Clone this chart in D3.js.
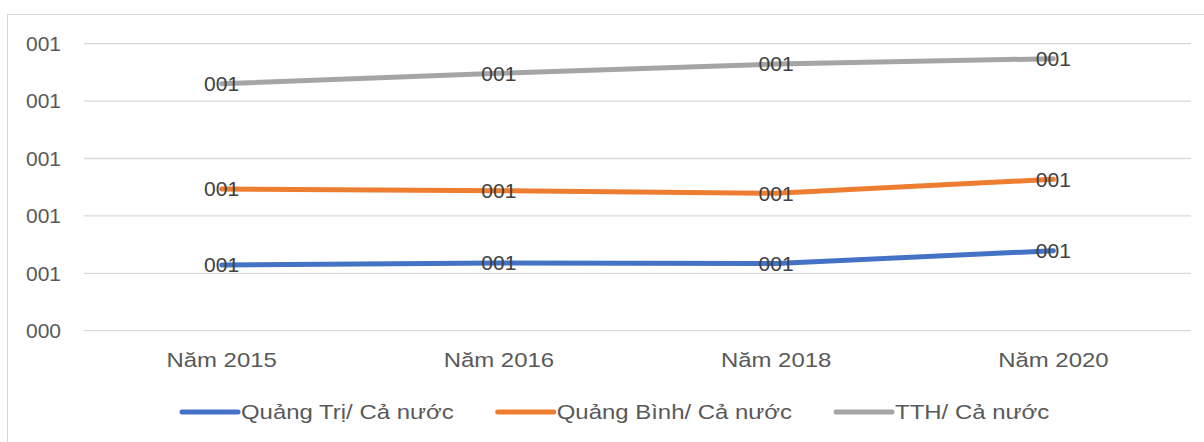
<!DOCTYPE html>
<html>
<head>
<meta charset="utf-8">
<script src="https://cdn.jsdelivr.net/npm/d3@7"></script>
<style>
  body { margin: 0; background: #fff; }
  text { font-family: "Liberation Sans", Arial, sans-serif; }
</style>
</head>
<body>
<svg id="chart" width="1204" height="442"></svg>
<script>
const categories = ['Năm 2015', 'Năm 2016', 'Năm 2018', 'Năm 2020'];
const seriesNames = ['Quảng Trị/ Cả nước', 'Quảng Bình/ Cả nước', 'TTH/ Cả nước'];
const quangTri = [1.145, 1.18, 1.17, 1.394];
const quangBinh = [2.469, 2.44, 2.394, 2.638];
const tth = [4.303, 4.484, 4.646, 4.739];
const yTicks = [0, 1, 2, 3, 4, 5];
const yTickLabels = ['000', '001', '001', '001', '001', '001'];
const pointLabels = ['001', '001', '001', '001'];
const colors = ['#4472C4', '#ED7D31', '#A5A5A5'];

const series = [quangTri, quangBinh, tth];
const wideText = 1.14; // the source renders words a bit wider

const svg = d3.select('#chart');

function stretch(sel) {
  sel.each(function() {
    const w = this.getComputedTextLength();
    d3.select(this)
      .attr('textLength', w * wideText)
      .attr('lengthAdjust', 'spacingAndGlyphs');
  });
}

// chart frame
svg.append('rect')
  .attr('x', 7.5).attr('y', 14.5)
  .attr('width', 1210).attr('height', 440)
  .attr('fill', 'none')
  .attr('stroke', '#D9D9D9');

const x = d3.scaleBand().domain(categories).range([83, 1192]);
const y = d3.scaleLinear().domain([0, 5]).range([330.7, 43.7]);

// gridlines
svg.append('g')
  .selectAll('line')
  .data(yTicks)
  .enter()
  .append('line')
  .attr('x1', 84).attr('x2', 1191)
  .attr('y1', function(d) { return y(d); })
  .attr('y2', function(d) { return y(d); })
  .attr('stroke', '#D9D9D9')
  .attr('stroke-width', 1.3);

// y axis labels
svg.append('g')
  .selectAll('text')
  .data(yTicks)
  .enter()
  .append('text')
  .attr('x', 61)
  .attr('y', function(d) { return y(d); })
  .attr('dy', '0.35em')
  .attr('text-anchor', 'end')
  .attr('font-size', 21)
  .attr('fill', '#595959')
  .text(function(d, i) { return yTickLabels[i]; });

// x axis labels
svg.append('g')
  .selectAll('text')
  .data(categories)
  .enter()
  .append('text')
  .attr('x', function(d) { return x(d) + x.bandwidth() / 2; })
  .attr('y', 367)
  .attr('text-anchor', 'middle')
  .attr('font-size', 21)
  .attr('fill', '#595959')
  .text(function(d) { return d; })
  .call(stretch);

// lines
const line = d3.line()
  .x(function(d, i) { return x(categories[i]) + x.bandwidth() / 2; })
  .y(function(d) { return y(d); });

series.forEach(function(values, s) {
  svg.append('path')
    .datum(values)
    .attr('d', line)
    .attr('fill', 'none')
    .attr('stroke', colors[s])
    .attr('stroke-width', 5)
    .attr('stroke-linecap', 'round')
    .attr('stroke-linejoin', 'round');
});

// data labels
series.forEach(function(values) {
  svg.append('g')
    .selectAll('text')
    .data(values)
    .enter()
    .append('text')
    .attr('x', function(d, i) { return x(categories[i]) + x.bandwidth() / 2; })
    .attr('y', function(d) { return y(d); })
    .attr('dy', '0.35em')
    .attr('text-anchor', 'middle')
    .attr('font-size', 21)
    .attr('fill', '#404040')
    .text(function(d, i) { return pointLabels[i]; });
});

// legend, laid out left to right
const legend = svg.append('g')
  .selectAll('g')
  .data(seriesNames)
  .enter()
  .append('g');
legend.append('line')
  .attr('x1', 0).attr('x2', 56)
  .attr('stroke', function(d, i) { return colors[i]; })
  .attr('stroke-width', 5)
  .attr('stroke-linecap', 'round');
legend.append('text')
  .attr('x', 59)
  .attr('dy', '0.35em')
  .attr('font-size', 21)
  .attr('fill', '#595959')
  .text(function(d) { return d; })
  .call(stretch);

let lx = 182;
legend.each(function() {
  const g = d3.select(this);
  g.attr('transform', 'translate(' + lx + ',412)');
  lx += 59 + (+g.select('text').attr('textLength')) + 44;
});
</script>
</body>
</html>
